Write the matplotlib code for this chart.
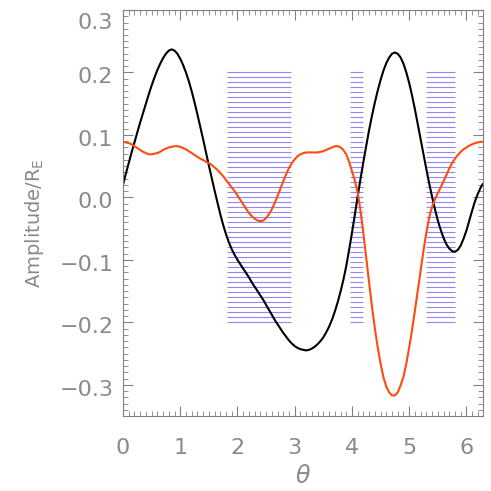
import numpy as np
import matplotlib.pyplot as plt
import matplotlib.transforms as mtransforms
from matplotlib.ticker import MultipleLocator

# black curve (step 0.05)
theta_k = [0.00, 0.05, 0.10, 0.15, 0.20, 0.25, 0.30, 0.35, 0.40, 0.45, 0.50, 0.55,
           0.60, 0.65, 0.70, 0.75, 0.80, 0.85, 0.90, 0.95, 1.00, 1.05, 1.10, 1.15,
           1.20, 1.25, 1.30, 1.35, 1.40, 1.45, 1.50, 1.55, 1.60, 1.65, 1.70, 1.75,
           1.80, 1.85, 1.90, 1.95, 2.00, 2.05, 2.10, 2.15, 2.20, 2.25, 2.30, 2.35,
           2.40, 2.45, 2.50, 2.55, 2.60, 2.65, 2.70, 2.75, 2.80, 2.85, 2.90, 2.95,
           3.00, 3.05, 3.10, 3.15, 3.20, 3.25, 3.30, 3.35, 3.40, 3.45, 3.50, 3.55,
           3.60, 3.65, 3.70, 3.75, 3.80, 3.85, 3.90, 3.95, 4.00, 4.05, 4.10, 4.15,
           4.20, 4.25, 4.30, 4.35, 4.40, 4.45, 4.50, 4.55, 4.60, 4.65, 4.70, 4.75,
           4.80, 4.85, 4.90, 4.95, 5.00, 5.05, 5.10, 5.15, 5.20, 5.25, 5.30, 5.35,
           5.40, 5.45, 5.50, 5.55, 5.60, 5.65, 5.70, 5.75, 5.80, 5.85, 5.90, 5.95,
           6.00, 6.05, 6.10, 6.15, 6.20, 6.25, 6.2832]
amp_k = [0.020, 0.038, 0.055, 0.072, 0.088, 0.104, 0.120, 0.135, 0.150, 0.165, 0.179,
         0.192, 0.204, 0.214, 0.223, 0.230, 0.235, 0.237, 0.235, 0.230, 0.222, 0.212,
         0.200, 0.186, 0.170, 0.152, 0.133, 0.113, 0.093, 0.072, 0.051, 0.031, 0.011,
         -0.008, -0.027, -0.044, -0.059, -0.072, -0.083, -0.092, -0.100, -0.107,
         -0.114, -0.121, -0.128, -0.136, -0.143, -0.150, -0.157, -0.164, -0.172,
         -0.180, -0.188, -0.196, -0.203, -0.210, -0.217, -0.223, -0.229, -0.234,
         -0.238, -0.241, -0.243, -0.244, -0.245, -0.244, -0.242, -0.239, -0.235,
         -0.230, -0.224, -0.216, -0.207, -0.196, -0.183, -0.168, -0.151, -0.132,
         -0.110, -0.084, -0.057, -0.028, 0.002, 0.030, 0.057, 0.083, 0.108, 0.131,
         0.152, 0.171, 0.188, 0.203, 0.215, 0.224, 0.230, 0.232, 0.230, 0.224,
         0.214, 0.200, 0.183, 0.163, 0.141, 0.117, 0.093, 0.069, 0.045, 0.022,
         0.001, -0.019, -0.037, -0.052, -0.065, -0.075, -0.082, -0.086, -0.087,
         -0.084, -0.077, -0.066, -0.053, -0.037, -0.021, -0.006, 0.006, 0.016, 0.021]

# orange curve
theta_o = theta_k
amp_o = [0.089, 0.088, 0.087, 0.085, 0.082, 0.079, 0.076, 0.073, 0.071, 0.069, 0.069,
         0.070, 0.071, 0.073, 0.076, 0.078, 0.080, 0.081, 0.082, 0.082, 0.081, 0.079,
         0.077, 0.074, 0.071, 0.068, 0.065, 0.062, 0.060, 0.057, 0.055, 0.052, 0.048,
         0.044, 0.039, 0.034, 0.028, 0.022, 0.016, 0.010, 0.003, -0.004, -0.011,
         -0.018, -0.025, -0.030, -0.034, -0.037, -0.038, -0.037, -0.033, -0.027,
         -0.019, -0.009, 0.002, 0.014, 0.026, 0.037, 0.047, 0.055, 0.061, 0.066,
         0.069, 0.071, 0.072, 0.072, 0.072, 0.072, 0.072, 0.073, 0.074, 0.076,
         0.078, 0.080, 0.082, 0.082, 0.080, 0.076, 0.069, 0.057, 0.042, 0.027,
         0.008, -0.022, -0.058, -0.097, -0.137, -0.175, -0.210, -0.240, -0.266,
         -0.288, -0.303, -0.312, -0.317, -0.317, -0.312, -0.301, -0.287, -0.266,
         -0.240, -0.212, -0.181, -0.149, -0.117, -0.085, -0.056, -0.032, -0.015,
         -0.003, 0.007, 0.016, 0.026, 0.036, 0.046, 0.055, 0.062, 0.068, 0.073,
         0.077, 0.080, 0.083, 0.085, 0.087, 0.088, 0.089, 0.089]

# hatched bands
band_start = [1.82, 3.97, 5.29]
band_end = [2.93, 4.20, 5.80]
band_lo, band_hi, n_lines = -0.2, 0.2, 51

gray = '#808080'
text_gray = '#8a8a8a'
plt.rcParams['font.family'] = ['DejaVu Sans']

fig = plt.figure(figsize=(4.91, 4.91), dpi=100)
ax = fig.add_axes([0.2505, 0.1527, 0.7325, 0.8269])

levels = np.linspace(band_lo, band_hi, n_lines)
for x0, x1 in zip(band_start, band_end):
    ax.hlines(levels, x0, x1, color='#7a68ee', lw=0.8, alpha=0.8)

ax.plot(theta_k, amp_k, color='black', lw=1.5)
ax.plot(theta_o, amp_o, color='#ff4a10', lw=1.5)

ax.set_xlim(0, 2 * np.pi)
ax.set_ylim(-0.35, 0.3)
ax.set_xticks(range(7))
ax.set_yticks([-0.3, -0.2, -0.1, 0.0, 0.1, 0.2, 0.3])
ax.set_yticklabels(['\u22120.3', '\u22120.2', '\u22120.1', '0.0', '0.1', '0.2', '0.3'])
ax.xaxis.set_minor_locator(MultipleLocator(0.1))
ax.yaxis.set_minor_locator(MultipleLocator(0.01))
ax.tick_params(which='both', direction='in', top=True, right=True, color=gray,
               labelcolor=text_gray, labelsize=16)
ax.tick_params(which='major', length=7)
ax.tick_params(which='minor', length=3.5)
ax.tick_params(axis='x', pad=16)
ax.tick_params(axis='y', pad=7)
for s in ax.spines.values():
    s.set_color(gray)

# y tick labels sit a little below their ticks
shift = mtransforms.ScaledTranslation(0, -3 / 100, fig.dpi_scale_trans)
for lab in ax.get_yticklabels():
    lab.set_transform(lab.get_transform() + shift)
ax.get_yticklabels()[-1].set_va('top')

ax.set_xlabel(r'$\theta$', color=text_gray, fontsize=17, labelpad=4)
ax.set_ylabel(r'Amplitude/R$_{\rm E}$', color=text_gray, fontsize=14)
ax.yaxis.set_label_coords(-0.215, 0.475)

fig.savefig('out.png', dpi=100)
